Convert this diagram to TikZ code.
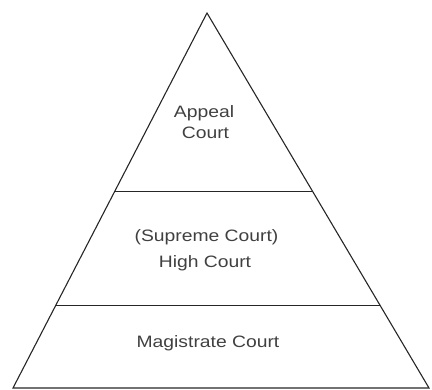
\documentclass[tikz,border=0pt]{standalone}
\usepackage{fontspec}
\usetikzlibrary{calc}
\newfontfamily\labfont[FakeStretch=1.17]{Liberation Sans}
\begin{document}
\begin{tikzpicture}[x=1pt,y=-1pt,
  edge/.style={line width=1.1pt,draw=black!85},
  lab/.style={font=\labfont\fontsize{16.5}{18}\selectfont,text=black!75,inner sep=0pt}]
\useasboundingbox (0,0) rectangle (432,390);
\coordinate (apex) at (207,13);
\coordinate (bl) at (13,388);
\coordinate (br) at (429,388);
\coordinate (l1) at ($(apex)!0.477!(bl)$);
\coordinate (r1) at ($(apex)!0.477!(br)$);
\coordinate (l2) at ($(apex)!0.779!(bl)$);
\coordinate (r2) at ($(apex)!0.779!(br)$);
\draw[edge,line join=miter] (bl) -- (apex) -- (br) -- cycle;
\draw[edge] (l1) -- (r1);
\draw[edge] (l2) -- (r2);
\node[lab] (appeal) at (204,113) {Appeal};
\node[lab] (court) at (205.5,133) {Court};
\node[lab] (supreme) at (206.5,237) {(Supreme Court)};
\node[lab] (high) at (205,263) {High Court};
\node[lab] (mag) at (208,343) {Magistrate Court};
\end{tikzpicture}
\end{document}
